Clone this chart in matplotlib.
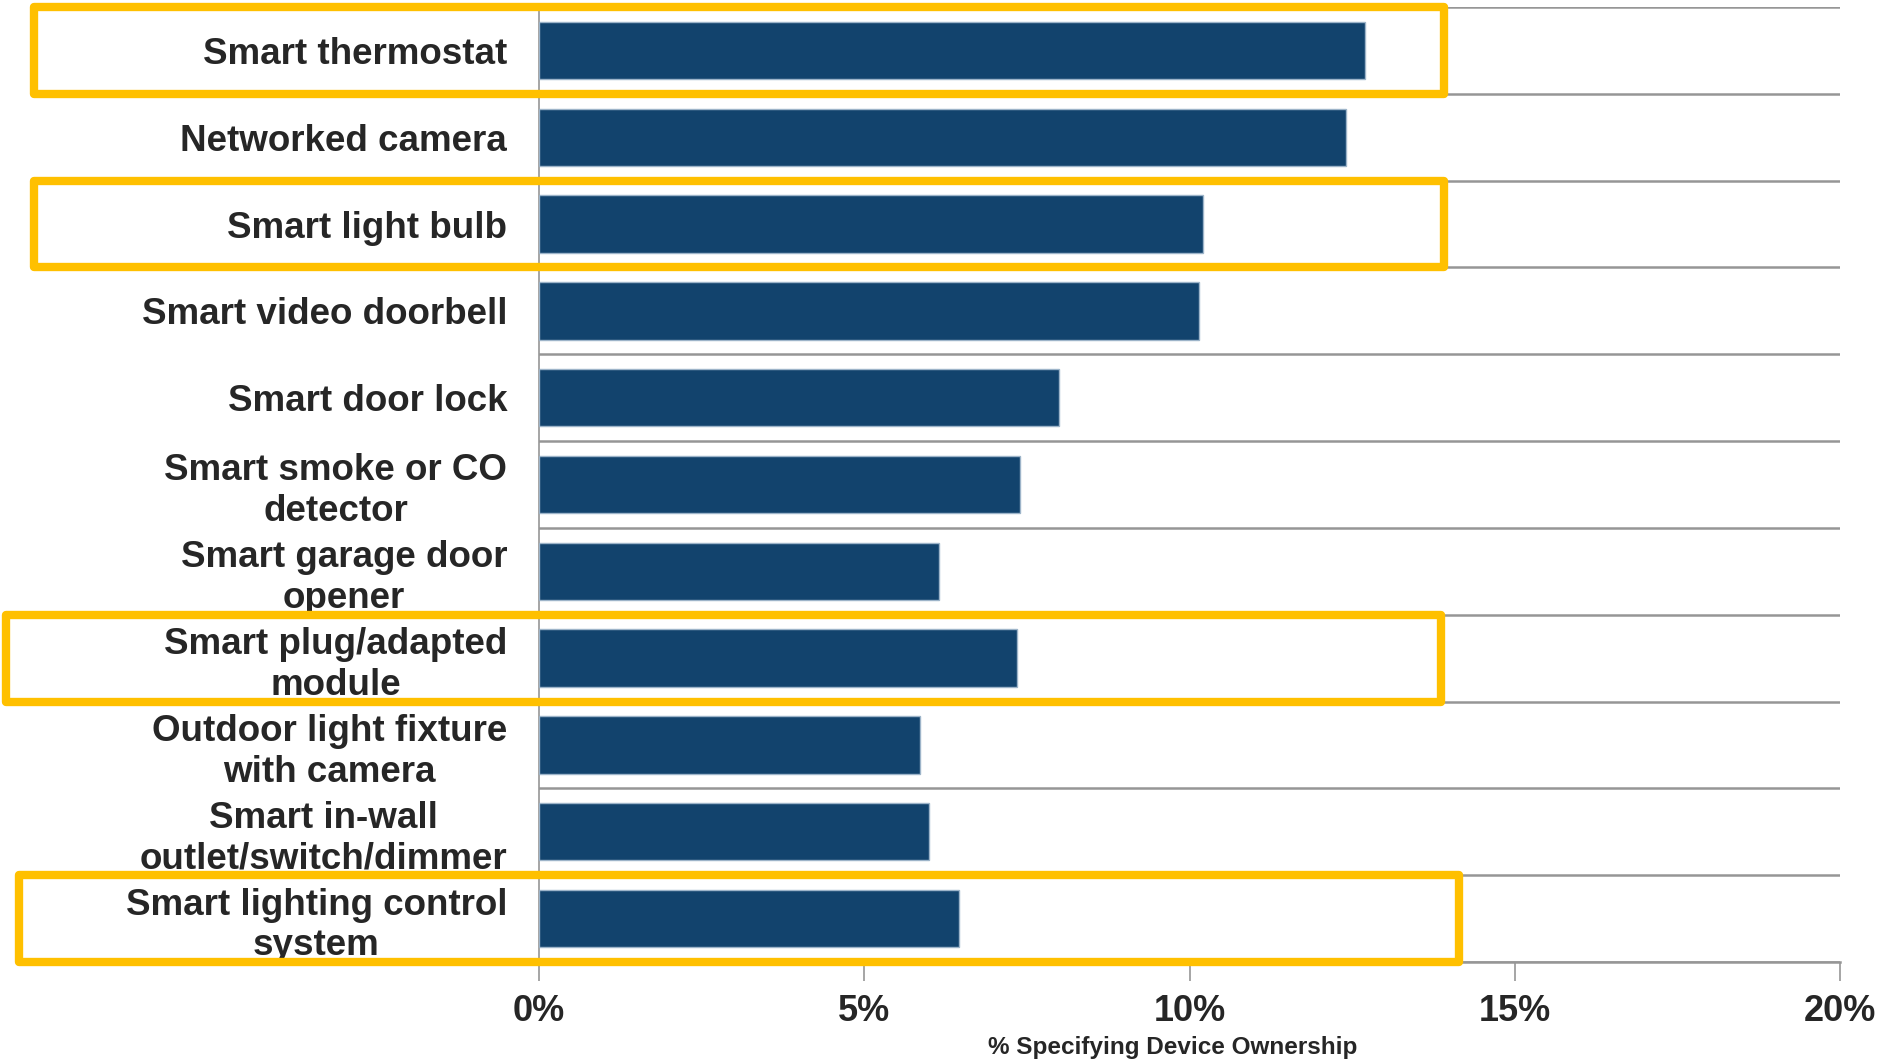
import numpy as np
import matplotlib.pyplot as plt
from matplotlib.patches import Rectangle

# Data (% of respondents)
devices = [
    'Smart thermostat',
    'Networked camera',
    'Smart light bulb',
    'Smart video doorbell',
    'Smart door lock',
    'Smart smoke or CO\ndetector',
    'Smart garage door\nopener',
    'Smart plug/adapted\nmodule',
    'Outdoor light fixture\nwith camera',
    'Smart in-wall\noutlet/switch/dimmer',
    'Smart lighting control\nsystem',
]
ownership = [12.7, 12.4, 10.2, 10.15, 8.0, 7.4, 6.15, 7.35, 5.85, 6.0, 6.45]
x_ticks = [0, 5, 10, 15, 20]
x_tick_labels = ['0%', '5%', '10%', '15%', '20%']

# Highlighted rows: (row index, left edge, right edge) in axes fraction
highlights = [(0, -0.388, 0.696), (2, -0.388, 0.696),
              (7, -0.410, 0.693), (10, -0.400, 0.707)]

bar_color = '#12436D'
text_color = '#262626'
grid_color = '#969696'
box_color = '#FFC000'

plt.rcParams['font.family'] = ['Liberation Sans', 'DejaVu Sans']

fig = plt.figure(figsize=(18.79, 10.62), dpi=100)
ax = fig.add_axes([0.2869, 0.0942, 0.6923, 0.8992])

y = np.arange(len(devices))
ax.barh(y, ownership, height=0.66, color=bar_color, edgecolor='#9DB4C9',
        linewidth=1.0, zorder=3)

ax.set_xlim(0, 20)
ax.set_ylim(len(devices) - 0.5, -0.5)

ax.set_yticks(y)
ax.set_yticklabels(devices, fontsize=26.5, fontweight='bold', color=text_color,
                   ha='right', multialignment='center', linespacing=1.22)
ax.tick_params(axis='y', length=0, pad=23)

ax.set_xticks(x_ticks)
ax.set_xticklabels(x_tick_labels, fontsize=26, fontweight='bold', color=text_color)
ax.tick_params(axis='x', length=14, width=1.2, color=grid_color, pad=9)
ax.set_xlabel('% Specifying Device Ownership', fontsize=17.5, fontweight='bold',
              color=text_color)
ax.xaxis.set_label_coords(0.487, -0.078)

# Horizontal lines between categories
ax.set_yticks(np.arange(len(devices) + 1) - 0.5, minor=True)
ax.tick_params(axis='y', which='minor', length=0)
ax.grid(which='minor', axis='y', color=grid_color, linewidth=1.8, zorder=1)

for side in ['top', 'right']:
    ax.spines[side].set_visible(False)
ax.spines['bottom'].set_color(grid_color)
ax.spines['bottom'].set_linewidth(1.8)
ax.spines['left'].set_color(grid_color)
ax.spines['left'].set_linewidth(1.2)

# Yellow highlight boxes around selected rows
trans = ax.get_yaxis_transform()
for row, x0, x1 in highlights:
    rect = Rectangle((x0, row - 0.5), x1 - x0, 1.0, transform=trans,
                     fill=False, edgecolor=box_color, linewidth=6,
                     joinstyle='round', clip_on=False, zorder=5)
    ax.add_patch(rect)

fig.savefig('out.png', dpi=100)
